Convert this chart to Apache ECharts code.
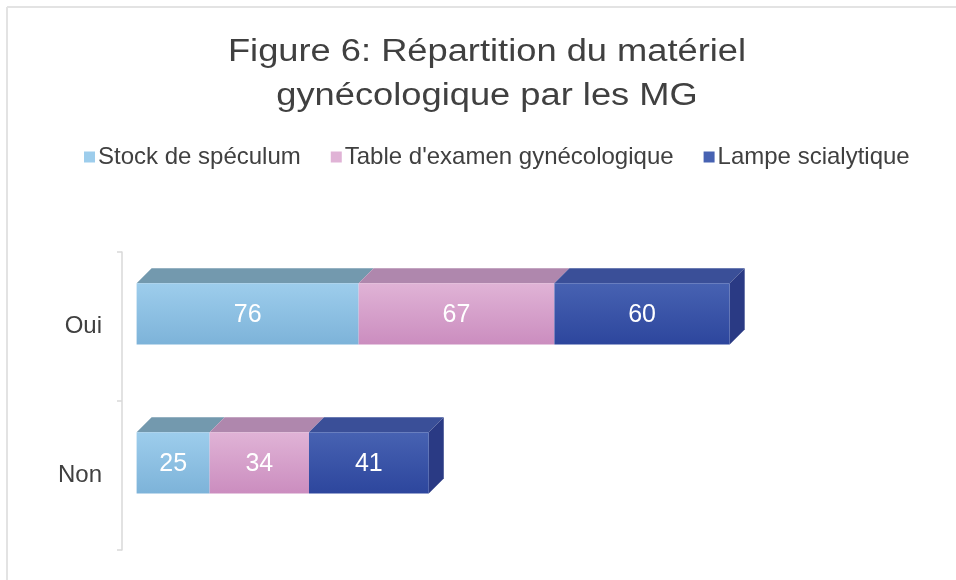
<!DOCTYPE html>
<html>
<head>
<meta charset="utf-8">
<script src="https://cdn.jsdelivr.net/npm/echarts@6/dist/echarts.min.js"></script>
<style>
  html, body { margin: 0; padding: 0; background: #fff; }
  #chart { width: 956px; height: 580px; }
</style>
</head>
<body>
<div id="chart"></div>
<script>
// Data
const categories = ['Oui', 'Non'];
const seriesNames = ['Stock de spéculum', "Table d'examen gynécologique", 'Lampe scialytique'];
const stockSpeculum = [76, 25];
const tableExamen = [67, 34];
const lampeScialytique = [60, 41];

const valueLists = [stockSpeculum, tableExamen, lampeScialytique];

// Face colours per series: front gradient (top, bottom), top face, side face
const faceColors = [
    { front: ['#9DCDEC', '#7DB3D9'], top: '#7399AE', side: '#5F8296' },
    { front: ['#E0B3D6', '#CB8DBF'], top: '#AF87AD', side: '#946F92' },
    { front: ['#4762B2', '#2D469D'], top: '#3A4F98', side: '#2A3A84' }
];

const DEPTH = 15;

initChart();

function initChart() {
    const chart = echarts.init(document.getElementById('chart'));

    // Build stacked segments [categoryIndex, start, end, value]
    const series = seriesNames.map((name, s) => {
        const data = categories.map((c, i) => {
            let start = 0;
            for (let k = 0; k < s; k++) start += valueLists[k][i];
            const v = valueLists[s][i];
            return [i, start, start + v, v];
        });
        return {
            name: name,
            type: 'custom',
            renderItem: makeRenderer(s, s === seriesNames.length - 1),
            encode: { x: [1, 2], y: 0 },
            data: data,
            itemStyle: { color: faceColors[s].front[0] }
        };
    });

    const option = {
        backgroundColor: '#ffffff',
        legend: {
            top: 140,
            left: 79,
            icon: 'rect',
            itemWidth: 11,
            itemHeight: 11,
            itemGap: 30,
            textStyle: {
                fontFamily: 'Liberation Sans',
                fontSize: 24,
                color: '#404040',
                padding: [0, 0, 0, -2]
            },
            data: seriesNames.map((n, s) => ({ name: n, itemStyle: { color: faceColors[s].front[0] } }))
        },
        grid: {
            left: 122,
            right: 89,
            top: 252,
            bottom: 30
        },
        xAxis: {
            type: 'value',
            min: -5,
            max: 250,
            show: false
        },
        yAxis: {
            type: 'category',
            data: categories,
            inverse: true,
            axisLine: { show: true, onZero: false, lineStyle: { color: '#D9D9D9', width: 1.5 } },
            axisTick: { show: true, length: 5, lineStyle: { color: '#D9D9D9', width: 1.5 } },
            axisLabel: {
                fontFamily: 'Liberation Sans',
                fontSize: 24,
                color: '#404040',
                margin: 20
            },
            splitLine: { show: false }
        },
        graphic: [
            { type: 'line', shape: { x1: 7, y1: 7, x2: 956, y2: 7 }, style: { stroke: '#E3E3E3', lineWidth: 2 } },
            { type: 'line', shape: { x1: 7, y1: 7, x2: 7, y2: 580 }, style: { stroke: '#E3E3E3', lineWidth: 2 } },
            {
                // chart title, slightly widened like the original
                type: 'text',
                x: 487,
                y: 30,
                scaleX: 1.17,
                style: {
                    text: 'Figure 6: Répartition du matériel\ngynécologique par les MG',
                    align: 'center',
                    verticalAlign: 'top',
                    fontFamily: 'Liberation Sans',
                    fontSize: 31,
                    lineHeight: 44,
                    fill: '#404040'
                }
            }
        ],
        series: series
    };

    chart.setOption(option);
}

function makeRenderer(s, isLast) {
    const col = faceColors[s];
    return function (params, api) {
        const cat = api.value(0);
        const p0 = api.coord([api.value(1), cat]);
        const p1 = api.coord([api.value(2), cat]);
        const band = api.size([0, 1])[1];
        const h = band * 0.41;
        const cy = p0[1] - band * 0.085;
        const x0 = p0[0], x1 = p1[0];
        const yTop = cy - h / 2, yBot = cy + h / 2;

        const children = [];
        // top face
        children.push({
            type: 'polygon',
            shape: { points: [[x0, yTop], [x0 + DEPTH, yTop - DEPTH], [x1 + DEPTH, yTop - DEPTH], [x1, yTop]] },
            style: { fill: col.top }
        });
        // right side face (only visible on last segment)
        if (isLast) {
            children.push({
                type: 'polygon',
                shape: { points: [[x1, yTop], [x1 + DEPTH, yTop - DEPTH], [x1 + DEPTH, yBot - DEPTH], [x1, yBot]] },
                style: { fill: col.side }
            });
        }
        // front face
        children.push({
            type: 'rect',
            shape: { x: x0, y: yTop, width: x1 - x0, height: h },
            style: {
                fill: new echarts.graphic.LinearGradient(0, 0, 0, 1, [
                    { offset: 0, color: col.front[0] },
                    { offset: 1, color: col.front[1] }
                ])
            }
        });
        // value label
        children.push({
            type: 'text',
            style: {
                text: String(api.value(3)),
                x: (x0 + x1) / 2,
                y: cy + 1,
                align: 'center',
                verticalAlign: 'middle',
                fill: '#ffffff',
                fontFamily: 'Liberation Sans',
                fontSize: 25
            }
        });
        return { type: 'group', children: children };
    };
}
</script>
</body>
</html>
